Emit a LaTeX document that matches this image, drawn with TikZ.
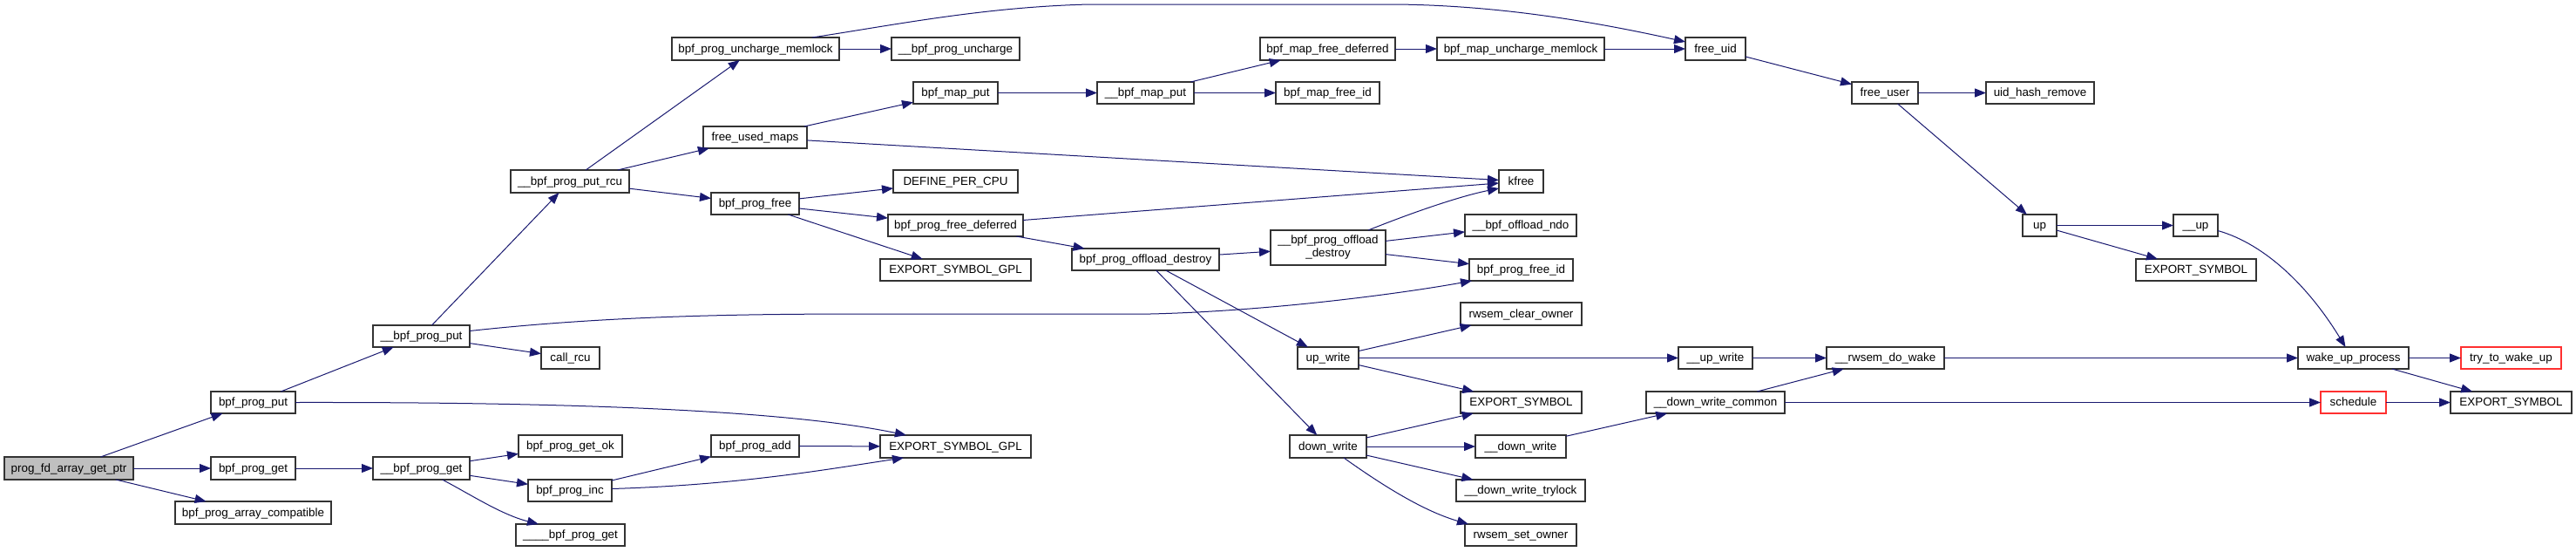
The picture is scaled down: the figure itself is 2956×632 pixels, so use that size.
\documentclass[tikz,border=0pt]{standalone}
\usepackage{fontspec}
\setmainfont{Liberation Sans}
\usetikzlibrary{arrows.meta,calc}
\definecolor{edgec}{HTML}{191970}
\definecolor{rootfill}{HTML}{BFBFBF}
\definecolor{boxline}{HTML}{333333}
\definecolor{redline}{HTML}{FF3030}
\tikzset{
  gbox/.style={draw=boxline, line width=0.6pt, fill=white, inner sep=0pt, outer sep=0pt,
    font=\fontsize{6.7}{7.5}\selectfont, text height=5.2pt, text depth=1pt, align=center},
  rootbox/.style={fill=rootfill},
  redbox/.style={draw=redline},
  twoline/.style={text height={}, text depth={}},
  edge/.style={draw=edgec, line width=0.5pt, -{Triangle[length=6.5pt,width=5pt]}},
}
\newcommand{\gn}[7][]{\node[gbox,#1,minimum width={(#5-#3)*0.5pt},minimum height={(#6-#4)*0.5pt}] (#2) at ({(#3+#5)/2},{(#4+#6)/2}) {#7};}
\begin{document}
\begin{tikzpicture}[x=0.5pt,y=-0.5pt]
\useasboundingbox[fill=white] (0,0) rectangle (2956,632);
% nodes
\gn[rootbox]{root}{5}{524}{153}{550}{prog\_fd\_array\_get\_ptr}
\gn{bpput}{242}{449}{339}{474}{bpf\_prog\_put}
\gn{bpget}{242}{524}{339}{550}{bpf\_prog\_get}
\gn{bparr}{201}{575}{380}{601}{bpf\_prog\_array\_compatible}
\gn{ubpput}{428}{373}{539}{398}{\_\_bpf\_prog\_put}
\gn{ubpget}{428}{524}{539}{550}{\_\_bpf\_prog\_get}
\gn{putrcu}{586}{195}{722}{221}{\_\_bpf\_prog\_put\_rcu}
\gn{callrcu}{621}{398}{688}{423}{call\_rcu}
\gn{getok}{595}{499}{714}{524}{bpf\_prog\_get\_ok}
\gn{inc}{606}{550}{702}{575}{bpf\_prog\_inc}
\gn{qget}{592}{601}{717}{626}{\_\_\_\_bpf\_prog\_get}
\gn{uncm}{771}{43}{963}{69}{bpf\_prog\_uncharge\_memlock}
\gn{fum}{807}{145}{926}{170}{free\_used\_maps}
\gn{pfree}{816}{221}{917}{246}{bpf\_prog\_free}
\gn{add}{816}{499}{917}{524}{bpf\_prog\_add}
\gn{uunch}{1023}{43}{1170}{69}{\_\_bpf\_prog\_uncharge}
\gn{mput}{1048}{94}{1145}{119}{bpf\_map\_put}
\gn{dpc}{1025}{195}{1168}{221}{DEFINE\_PER\_CPU}
\gn{pfd}{1019}{246}{1174}{271}{bpf\_prog\_free\_deferred}
\gn{esga}{1010}{297}{1183}{322}{EXPORT\_SYMBOL\_GPL}
\gn{esgb}{1010}{499}{1183}{525}{EXPORT\_SYMBOL\_GPL}
\gn{umput}{1259}{94}{1370}{119}{\_\_bpf\_map\_put}
\gn{pod}{1230}{285}{1399}{310}{bpf\_prog\_offload\_destroy}
\gn{mfd}{1446}{43}{1601}{69}{bpf\_map\_free\_deferred}
\gn{mfid}{1464}{94}{1583}{119}{bpf\_map\_free\_id}
\gn[twoline]{upod}{1458}{264}{1590}{304}{\_\_bpf\_prog\_offload\\\_destroy}
\gn{upw}{1489}{398}{1559}{423}{up\_write}
\gn{dw}{1480}{499}{1568}{525}{down\_write}
\gn{mum}{1649}{43}{1841}{69}{bpf\_map\_uncharge\_memlock}
\gn{kfree}{1720}{195}{1771}{221}{kfree}
\gn{ondo}{1681}{246}{1809}{271}{\_\_bpf\_offload\_ndo}
\gn{pfid}{1686}{297}{1805}{322}{bpf\_prog\_free\_id}
\gn{rco}{1676}{347}{1815}{373}{rwsem\_clear\_owner}
\gn{esa}{1676}{449}{1815}{474}{EXPORT\_SYMBOL}
\gn{udw}{1693}{499}{1797}{525}{\_\_down\_write}
\gn{dwt}{1671}{550}{1819}{575}{\_\_down\_write\_trylock}
\gn{rso}{1681}{601}{1809}{626}{rwsem\_set\_owner}
\gn{fuid}{1934}{43}{2003}{69}{free\_uid}
\gn{uupw}{1926}{398}{2011}{423}{\_\_up\_write}
\gn{dwc}{1889}{449}{2048}{474}{\_\_down\_write\_common}
\gn{fuser}{2125}{94}{2201}{119}{free\_user}
\gn{rdw}{2096}{398}{2231}{423}{\_\_rwsem\_do\_wake}
\gn{uhr}{2279}{94}{2403}{119}{uid\_hash\_remove}
\gn{up}{2321}{246}{2360}{271}{up}
\gn{esb}{2451}{297}{2589}{322}{EXPORT\_SYMBOL}
\gn{uup}{2494}{246}{2545}{271}{\_\_up}
\gn{wup}{2637}{398}{2764}{423}{wake\_up\_process}
\gn[redbox]{sched}{2663}{449}{2738}{474}{schedule}
\gn[redbox]{ttwu}{2824}{398}{2939}{423}{try\_to\_wake\_up}
\gn{esc}{2812}{449}{2951}{474}{EXPORT\_SYMBOL}
% edges
\draw[edge] (root) -- (bpput);
\draw[edge] (root) -- (bpget);
\draw[edge] (root) -- (bparr);
\draw[edge] (bpput) -- (ubpput);
\draw[edge] (bpput.east) .. controls (650,461) and (900,470) .. ($(esgb.north west)+(30,0)$);
\draw[edge] (bpget) -- (ubpget);
\draw[edge] (ubpput) -- (putrcu);
\draw[edge] (ubpput) -- (callrcu);
\draw[edge] ($(ubpput.east)+(0,-6)$) .. controls (700,362) and (850,360) .. (1000,360) -- (1320,360) .. controls (1450,357) and (1600,338) .. ($(pfid.south west)+(3,0)$);
\draw[edge] (ubpget) -- (getok);
\draw[edge] (ubpget) -- (inc);
\draw[edge] ($(ubpget.south)+(24,0)$) .. controls (540,567) and (575,590) .. ($(qget.north west)+(26,0)$);
\draw[edge] (inc) -- (add);
\draw[edge] ($(inc.east)+(0,-2)$) .. controls (850,556) and (950,538) .. ($(esgb.south west)+(27,0)$);
\draw[edge] (add) -- (esgb);
\draw[edge] (putrcu) -- (uncm);
\draw[edge] (putrcu) -- (fum);
\draw[edge] (putrcu) -- (pfree);
\draw[edge] (uncm) -- (uunch);
\draw[edge] ($(uncm.north)+(65,0)$) .. controls (1030,28) and (1130,8) .. (1250,5) -- (1600,5) .. controls (1720,6) and (1830,25) .. ($(fuid.west)+(0,-8)$);
\draw[edge] (fum) -- (mput);
\draw[edge] (fum) -- (kfree);
\draw[edge] (pfree) -- (dpc);
\draw[edge] (pfree) -- (pfd);
\draw[edge] (pfree) -- (esga);
\draw[edge] (pfd) -- (kfree);
\draw[edge] (pfd) -- (pod);
\draw[edge] (mput) -- (umput);
\draw[edge] (umput) -- (mfd);
\draw[edge] (umput) -- (mfid);
\draw[edge] (mfd) -- (mum);
\draw[edge] (mum) -- (fuid);
\draw[edge] (pod) -- (upod);
\draw[edge] (pod) -- (upw);
\draw[edge] (pod) -- (dw);
\draw[edge] ($(upod.north)+(46,0)$) .. controls (1630,240) and (1680,224) .. ($(kfree.west)+(0,8)$);
\draw[edge] (upod) -- (ondo);
\draw[edge] (upod) -- (pfid);
\draw[edge] (upw) -- (rco);
\draw[edge] (upw) -- (uupw);
\draw[edge] (upw) -- (esa);
\draw[edge] (dw) -- (esa);
\draw[edge] (dw) -- (udw);
\draw[edge] (dw) -- (dwt);
\draw[edge] ($(dw.south)+(18,0)$) .. controls (1580,552) and (1630,585) .. ($(rso.north west)+(4,0)$);
\draw[edge] (udw) -- (dwc);
\draw[edge] (uupw) -- (rdw);
\draw[edge] (dwc) -- (rdw);
\draw[edge] (dwc) -- (sched);
\draw[edge] (rdw) -- (wup);
\draw[edge] (fuid) -- (fuser);
\draw[edge] (fuser) -- (uhr);
\draw[edge] (fuser) -- (up);
\draw[edge] (up) -- (uup);
\draw[edge] (up) -- (esb);
\draw[edge] ($(uup.east)+(0,6)$) .. controls (2600,280) and (2650,330) .. ($(wup.north)+(-9,0)$);
\draw[edge] (wup) -- (ttwu);
\draw[edge] (wup) -- (esc);
\draw[edge] (sched) -- (esc);
\end{tikzpicture}
\end{document}
